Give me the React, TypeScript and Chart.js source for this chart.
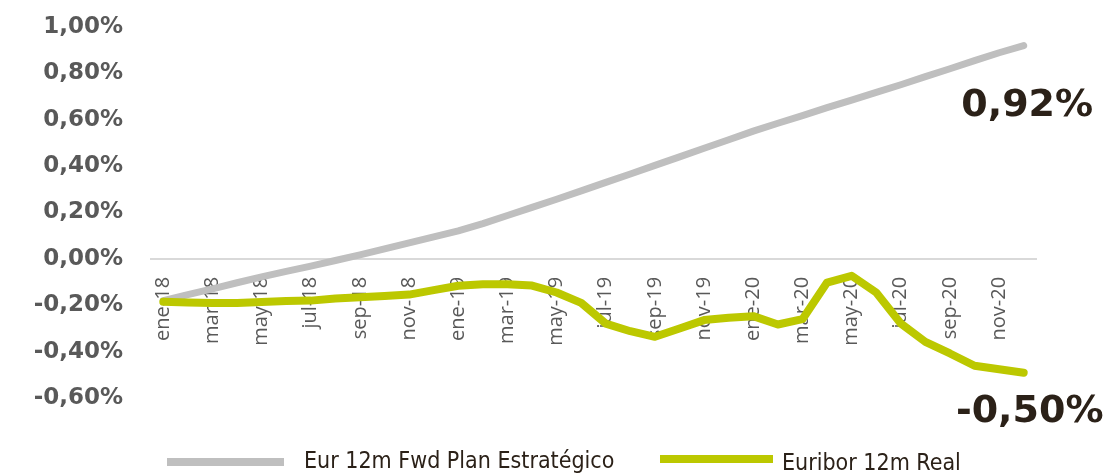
import React, { useEffect, useRef } from "react";
import { Chart, registerables } from "chart.js";

Chart.register(...registerables);

const months = [
  "ene-18", "feb-18", "mar-18", "abr-18", "may-18", "jun-18", "jul-18", "ago-18", "sep-18", "oct-18", "nov-18", "dic-18",
  "ene-19", "feb-19", "mar-19", "abr-19", "may-19", "jun-19", "jul-19", "ago-19", "sep-19", "oct-19", "nov-19", "dic-19",
  "ene-20", "feb-20", "mar-20", "abr-20", "may-20", "jun-20", "jul-20", "ago-20", "sep-20", "oct-20", "nov-20", "dic-20",
];

const fwdPlan = [
  -0.18, -0.154, -0.129, -0.103, -0.078, -0.054, -0.031, -0.007, 0.017, 0.043, 0.069, 0.095,
  0.121, 0.152, 0.187, 0.222, 0.257, 0.293, 0.33, 0.366, 0.403, 0.44, 0.477, 0.514,
  0.551, 0.585, 0.618, 0.652, 0.685, 0.718, 0.751, 0.786, 0.82, 0.855, 0.889, 0.92,
];

const euriborReal = [
  -0.185, -0.188, -0.19, -0.19, -0.186, -0.182, -0.18, -0.171, -0.165, -0.16, -0.154, -0.135,
  -0.116, -0.109, -0.109, -0.115, -0.145, -0.19, -0.279, -0.312, -0.336, -0.3, -0.264, -0.254,
  -0.247, -0.283, -0.26, -0.102, -0.073, -0.145, -0.279, -0.358, -0.408, -0.461, -0.476, -0.491,
];

const seriesNames = ["Eur 12m Fwd Plan Estratégico", "Euribor 12m Real"];
const endLabels = ["0,92%", "-0,50%"];

const GRAY = "#bfbfbf";
const GREEN = "#bcc800";
const TEXT_DARK = "#2b2118";
const AXIS_TEXT = "#595959";

const fmtPct = (v: number) => {
  const n = Math.abs(v) < 1e-9 ? 0 : v;
  return n.toFixed(2).replace(".", ",") + "%";
};

const endLabelPlugin = {
  id: "endLabels",
  afterDatasetsDraw(chart: any) {
    const { ctx } = chart;
    const offsets = [
      { dx: 3.5, dy: 70 },
      { dx: 6, dy: 49 },
    ];
    ctx.save();
    ctx.font = "bold 38px 'DejaVu Sans'";
    ctx.fillStyle = TEXT_DARK;
    ctx.textAlign = "center";
    ctx.textBaseline = "alphabetic";
    chart.data.datasets.forEach((ds: any, i: number) => {
      const meta = chart.getDatasetMeta(i);
      const last = meta.data[meta.data.length - 1];
      if (!last) return;
      ctx.fillText(endLabels[i], last.x + offsets[i].dx, last.y + offsets[i].dy);
    });
    ctx.restore();
  },
};

export default function App() {
  const canvasRef = useRef<HTMLCanvasElement | null>(null);

  useEffect(() => {
    if (!canvasRef.current) return;
    const chart = new Chart(canvasRef.current, {
      type: "line",
      data: {
        labels: months,
        datasets: [
          {
            label: seriesNames[0],
            data: fwdPlan,
            borderColor: GRAY,
            backgroundColor: GRAY,
            borderWidth: 7,
            pointRadius: 0,
            tension: 0,
            borderCapStyle: "round",
            borderJoinStyle: "round",
            order: 1,
          },
          {
            label: seriesNames[1],
            data: euriborReal,
            borderColor: GREEN,
            backgroundColor: GREEN,
            borderWidth: 8,
            pointRadius: 0,
            tension: 0,
            borderCapStyle: "round",
            borderJoinStyle: "round",
            order: 0,
          },
        ],
      },
      options: {
        animation: false,
        responsive: true,
        maintainAspectRatio: false,
        layout: { padding: { left: 0, right: 74, top: 19, bottom: 76 } },
        plugins: {
          legend: { display: false },
          tooltip: { enabled: false },
        },
        scales: {
          x: {
            type: "category",
            position: { y: 0 },
            offset: true,
            grid: { display: false, drawTicks: false },
            border: { display: true, color: "#d9d9d9", width: 2 },
            ticks: {
              autoSkip: false,
              minRotation: 90,
              maxRotation: 90,
              padding: 18,
              color: AXIS_TEXT,
              font: { family: "'Open Sans'", size: 20 },
              callback: function (_v: any, i: number) {
                return i % 2 === 0 ? months[i] : "";
              },
            },
          },
          y: {
            min: -0.6,
            max: 1.0,
            grid: { display: false, drawTicks: true, tickLength: 28 },
            border: { display: false },
            afterFit: (scale: any) => {
              scale.width = 143;
            },
            ticks: {
              stepSize: 0.2,
              padding: 0,
              color: AXIS_TEXT,
              font: { family: "'DejaVu Sans'", size: 23, weight: "bold" },
              callback: (v: any) => fmtPct(Number(v)),
            },
          },
        },
      },
      plugins: [endLabelPlugin],
    });
    return () => chart.destroy();
  }, []);

  const legendText: React.CSSProperties = {
    position: "absolute",
    fontFamily: "'DejaVu Sans Condensed', 'DejaVu Sans', sans-serif",
    fontStretch: "condensed",
    fontSize: 23,
    lineHeight: "23px",
    color: TEXT_DARK,
    whiteSpace: "nowrap",
  };

  return (
    <div style={{ position: "relative", width: 1102, height: 466 }}>
      <canvas ref={canvasRef} />
      <div style={{ position: "absolute", left: 159, top: 450, width: 117, height: 8, background: GRAY }} />
      <div style={{ ...legendText, left: 296, top: 441 }}>{seriesNames[0]}</div>
      <div style={{ position: "absolute", left: 652, top: 447, width: 113, height: 8, background: GREEN }} />
      <div style={{ ...legendText, left: 774, top: 443 }}>{seriesNames[1]}</div>
    </div>
  );
}
